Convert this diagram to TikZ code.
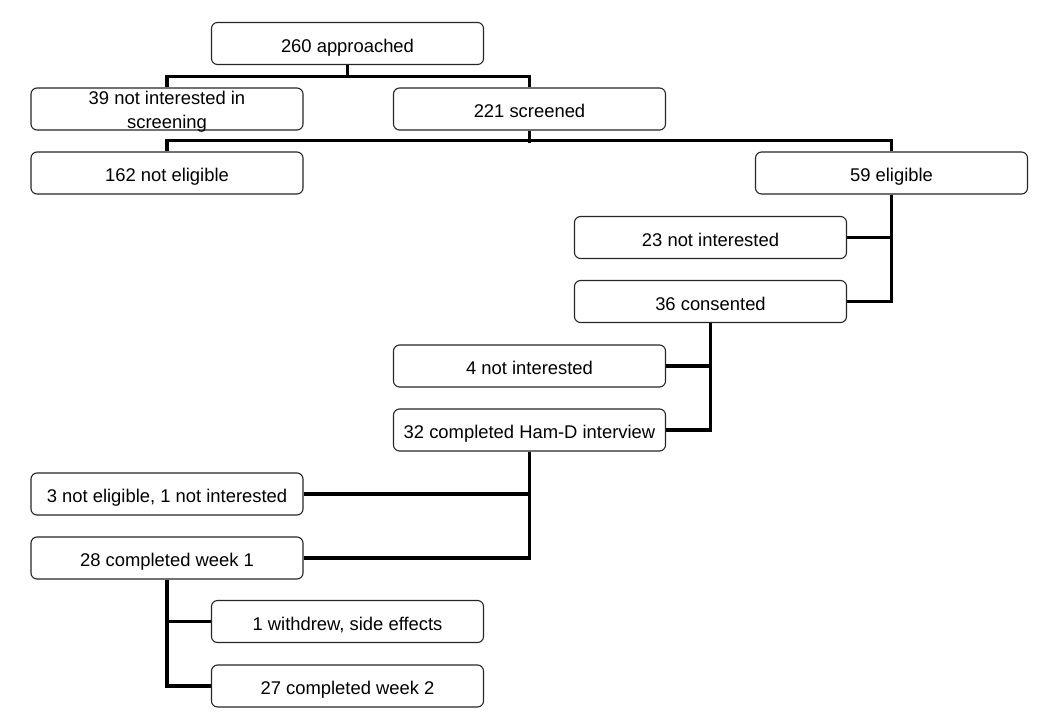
\documentclass[tikz,border=0pt]{standalone}
\usepackage{fontspec}
\setmainfont{Liberation Sans}
\begin{document}
\begin{tikzpicture}[x=1pt,y=-1pt,
  box/.style={draw=black!85,line width=1.1pt,rounded corners=6pt,fill=white,
    minimum width=272pt,minimum height=42pt,inner sep=0pt,align=center,
    text height=17pt,text depth=0pt,
    font=\fontsize{18.4}{24}\selectfont},
  link/.style={line width=3.3pt}]
\useasboundingbox (0,0) rectangle (1050,718);

%boxes:
\node[box] (appr)  at (347.5,43.5) {260 approached};
\node[box,text height=38pt] (noscr) at (167,109) {39 not interested in\\screening};
\node[box] (scr)   at (529.5,109)  {221 screened};
\node[box] (nelig) at (167,173)    {162 not eligible};
\node[box] (elig)  at (891.5,173)  {59 eligible};
\node[box] (ni23)  at (710.5,237.5) {23 not interested};
\node[box] (cons)  at (710.5,301.5) {36 consented};
\node[box] (ni4)   at (529.5,366)  {4 not interested};
\node[box] (ham)   at (529.5,430)  {32 completed Ham-D interview};
\node[box] (ne3)   at (167,494)    {3 not eligible, 1 not interested};
\node[box] (wk1)   at (167,558)    {28 completed week 1};
\node[box] (wd)    at (347.5,621.5) {1 withdrew, side effects};
\node[box] (wk2)   at (347.5,686)  {27 completed week 2};

%connectors:
\draw[link] (appr.south) -- ++(0,12);
\draw[link] (noscr.north) -- ++(0,-11) -| (scr.north);
\draw[link] (scr.south) -- ++(0,12);
\draw[link] (nelig.north) -- ++(0,-11) -| (elig.north);

\draw[link] (elig.south) |- (ni23.east);
\draw[link] (elig.south) |- (cons.east);
\draw[link] (cons.south) |- (ni4.east);
\draw[link] (cons.south) |- (ham.east);
\draw[link] (ham.south) |- (ne3.east);
\draw[link] (ham.south) |- (wk1.east);
\draw[link] (wk1.south) |- (wd.west);
\draw[link] (wk1.south) |- (wk2.west);
\end{tikzpicture}
\end{document}
